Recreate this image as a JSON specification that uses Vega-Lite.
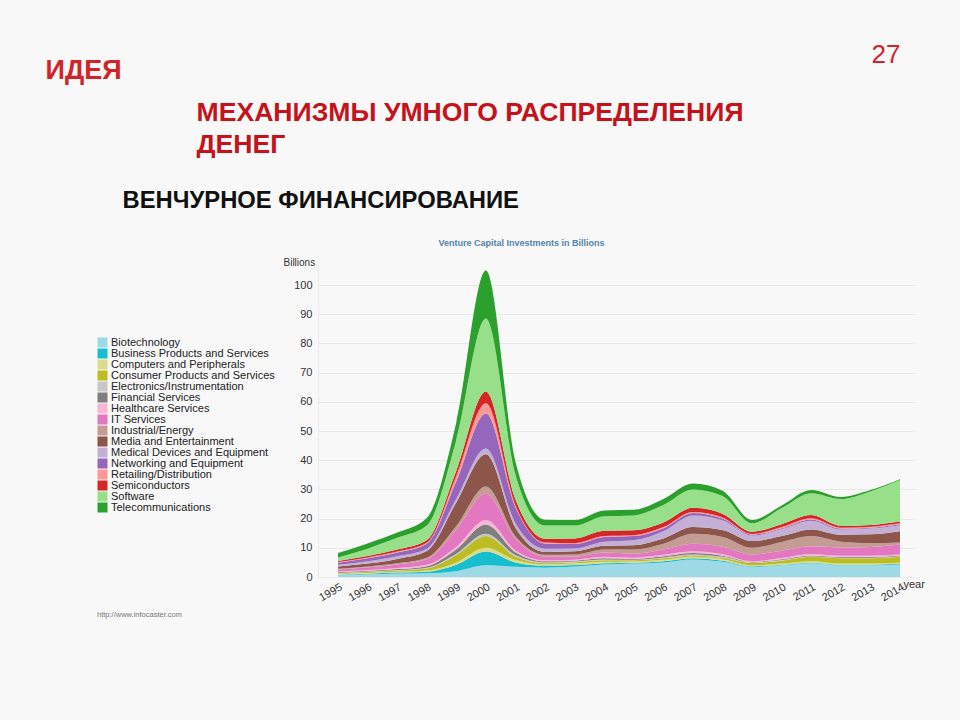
{
"$schema": "https://vega.github.io/schema/vega-lite/v6.json",
"width": 597,
"height": 315,
"autosize": {"type": "none"},
"padding": {"left": 318, "top": 262, "right": 45, "bottom": 143},
"background": "#f8f8f8",
"config": {"font": "Liberation Sans", "view": {"stroke": null}},
"data": {"values": [
{"Year":1995,"Sector":"Biotechnology","Value":0.6},{"Year":1995,"Sector":"Business Products and Services","Value":0.2},{"Year":1995,"Sector":"Computers and Peripherals","Value":0.2},{"Year":1995,"Sector":"Consumer Products and Services","Value":0.2},{"Year":1995,"Sector":"Electronics/Instrumentation","Value":0.2},{"Year":1995,"Sector":"Financial Services","Value":0.2},{"Year":1995,"Sector":"Healthcare Services","Value":0.3},{"Year":1995,"Sector":"IT Services","Value":0.6},{"Year":1995,"Sector":"Industrial/Energy","Value":0.3},{"Year":1995,"Sector":"Media and Entertainment","Value":0.8},{"Year":1995,"Sector":"Medical Devices and Equipment","Value":0.6},{"Year":1995,"Sector":"Networking and Equipment","Value":0.7},{"Year":1995,"Sector":"Retailing/Distribution","Value":0.2},{"Year":1995,"Sector":"Semiconductors","Value":0.4},{"Year":1995,"Sector":"Software","Value":1.2},{"Year":1995,"Sector":"Telecommunications","Value":1.5},
{"Year":1996,"Sector":"Biotechnology","Value":0.9},{"Year":1996,"Sector":"Business Products and Services","Value":0.2},{"Year":1996,"Sector":"Computers and Peripherals","Value":0.3},{"Year":1996,"Sector":"Consumer Products and Services","Value":0.3},{"Year":1996,"Sector":"Electronics/Instrumentation","Value":0.2},{"Year":1996,"Sector":"Financial Services","Value":0.2},{"Year":1996,"Sector":"Healthcare Services","Value":0.3},{"Year":1996,"Sector":"IT Services","Value":0.9},{"Year":1996,"Sector":"Industrial/Energy","Value":0.3},{"Year":1996,"Sector":"Media and Entertainment","Value":1.0},{"Year":1996,"Sector":"Medical Devices and Equipment","Value":0.8},{"Year":1996,"Sector":"Networking and Equipment","Value":1.0},{"Year":1996,"Sector":"Retailing/Distribution","Value":0.3},{"Year":1996,"Sector":"Semiconductors","Value":0.5},{"Year":1996,"Sector":"Software","Value":2.5},{"Year":1996,"Sector":"Telecommunications","Value":1.8},
{"Year":1997,"Sector":"Biotechnology","Value":1.2},{"Year":1997,"Sector":"Business Products and Services","Value":0.3},{"Year":1997,"Sector":"Computers and Peripherals","Value":0.3},{"Year":1997,"Sector":"Consumer Products and Services","Value":0.4},{"Year":1997,"Sector":"Electronics/Instrumentation","Value":0.2},{"Year":1997,"Sector":"Financial Services","Value":0.3},{"Year":1997,"Sector":"Healthcare Services","Value":0.4},{"Year":1997,"Sector":"IT Services","Value":1.2},{"Year":1997,"Sector":"Industrial/Energy","Value":0.4},{"Year":1997,"Sector":"Media and Entertainment","Value":1.5},{"Year":1997,"Sector":"Medical Devices and Equipment","Value":0.9},{"Year":1997,"Sector":"Networking and Equipment","Value":1.3},{"Year":1997,"Sector":"Retailing/Distribution","Value":0.3},{"Year":1997,"Sector":"Semiconductors","Value":0.7},{"Year":1997,"Sector":"Software","Value":4.0},{"Year":1997,"Sector":"Telecommunications","Value":1.8},
{"Year":1998,"Sector":"Biotechnology","Value":1.3},{"Year":1998,"Sector":"Business Products and Services","Value":0.5},{"Year":1998,"Sector":"Computers and Peripherals","Value":0.4},{"Year":1998,"Sector":"Consumer Products and Services","Value":0.7},{"Year":1998,"Sector":"Electronics/Instrumentation","Value":0.3},{"Year":1998,"Sector":"Financial Services","Value":0.5},{"Year":1998,"Sector":"Healthcare Services","Value":0.5},{"Year":1998,"Sector":"IT Services","Value":1.9},{"Year":1998,"Sector":"Industrial/Energy","Value":0.5},{"Year":1998,"Sector":"Media and Entertainment","Value":2.3},{"Year":1998,"Sector":"Medical Devices and Equipment","Value":0.8},{"Year":1998,"Sector":"Networking and Equipment","Value":1.7},{"Year":1998,"Sector":"Retailing/Distribution","Value":0.3},{"Year":1998,"Sector":"Semiconductors","Value":0.9},{"Year":1998,"Sector":"Software","Value":5.0},{"Year":1998,"Sector":"Telecommunications","Value":2.6},
{"Year":1999,"Sector":"Biotechnology","Value":2.0},{"Year":1999,"Sector":"Business Products and Services","Value":2.2},{"Year":1999,"Sector":"Computers and Peripherals","Value":0.8},{"Year":1999,"Sector":"Consumer Products and Services","Value":2.5},{"Year":1999,"Sector":"Electronics/Instrumentation","Value":0.5},{"Year":1999,"Sector":"Financial Services","Value":1.5},{"Year":1999,"Sector":"Healthcare Services","Value":0.8},{"Year":1999,"Sector":"IT Services","Value":6.0},{"Year":1999,"Sector":"Industrial/Energy","Value":1.2},{"Year":1999,"Sector":"Media and Entertainment","Value":8.0},{"Year":1999,"Sector":"Medical Devices and Equipment","Value":1.3},{"Year":1999,"Sector":"Networking and Equipment","Value":6.0},{"Year":1999,"Sector":"Retailing/Distribution","Value":1.8},{"Year":1999,"Sector":"Semiconductors","Value":1.8},{"Year":1999,"Sector":"Software","Value":10.5},{"Year":1999,"Sector":"Telecommunications","Value":6.0},
{"Year":2000,"Sector":"Biotechnology","Value":4.0},{"Year":2000,"Sector":"Business Products and Services","Value":4.7},{"Year":2000,"Sector":"Computers and Peripherals","Value":1.3},{"Year":2000,"Sector":"Consumer Products and Services","Value":4.0},{"Year":2000,"Sector":"Electronics/Instrumentation","Value":0.8},{"Year":2000,"Sector":"Financial Services","Value":3.2},{"Year":2000,"Sector":"Healthcare Services","Value":1.5},{"Year":2000,"Sector":"IT Services","Value":9.0},{"Year":2000,"Sector":"Industrial/Energy","Value":2.5},{"Year":2000,"Sector":"Media and Entertainment","Value":11.0},{"Year":2000,"Sector":"Medical Devices and Equipment","Value":2.0},{"Year":2000,"Sector":"Networking and Equipment","Value":12.0},{"Year":2000,"Sector":"Retailing/Distribution","Value":3.5},{"Year":2000,"Sector":"Semiconductors","Value":4.0},{"Year":2000,"Sector":"Software","Value":25.0},{"Year":2000,"Sector":"Telecommunications","Value":16.5},
{"Year":2001,"Sector":"Biotechnology","Value":3.5},{"Year":2001,"Sector":"Business Products and Services","Value":1.5},{"Year":2001,"Sector":"Computers and Peripherals","Value":0.8},{"Year":2001,"Sector":"Consumer Products and Services","Value":1.2},{"Year":2001,"Sector":"Electronics/Instrumentation","Value":0.5},{"Year":2001,"Sector":"Financial Services","Value":1.0},{"Year":2001,"Sector":"Healthcare Services","Value":0.6},{"Year":2001,"Sector":"IT Services","Value":4.0},{"Year":2001,"Sector":"Industrial/Energy","Value":0.8},{"Year":2001,"Sector":"Media and Entertainment","Value":3.0},{"Year":2001,"Sector":"Medical Devices and Equipment","Value":1.5},{"Year":2001,"Sector":"Networking and Equipment","Value":5.5},{"Year":2001,"Sector":"Retailing/Distribution","Value":0.6},{"Year":2001,"Sector":"Semiconductors","Value":2.0},{"Year":2001,"Sector":"Software","Value":8.5},{"Year":2001,"Sector":"Telecommunications","Value":4.5},
{"Year":2002,"Sector":"Biotechnology","Value":3.2},{"Year":2002,"Sector":"Business Products and Services","Value":0.7},{"Year":2002,"Sector":"Computers and Peripherals","Value":0.4},{"Year":2002,"Sector":"Consumer Products and Services","Value":0.4},{"Year":2002,"Sector":"Electronics/Instrumentation","Value":0.3},{"Year":2002,"Sector":"Financial Services","Value":0.4},{"Year":2002,"Sector":"Healthcare Services","Value":0.3},{"Year":2002,"Sector":"IT Services","Value":1.3},{"Year":2002,"Sector":"Industrial/Energy","Value":0.6},{"Year":2002,"Sector":"Media and Entertainment","Value":1.0},{"Year":2002,"Sector":"Medical Devices and Equipment","Value":1.1},{"Year":2002,"Sector":"Networking and Equipment","Value":1.8},{"Year":2002,"Sector":"Retailing/Distribution","Value":0.3},{"Year":2002,"Sector":"Semiconductors","Value":1.3},{"Year":2002,"Sector":"Software","Value":4.5},{"Year":2002,"Sector":"Telecommunications","Value":2.0},
{"Year":2003,"Sector":"Biotechnology","Value":3.6},{"Year":2003,"Sector":"Business Products and Services","Value":0.5},{"Year":2003,"Sector":"Computers and Peripherals","Value":0.5},{"Year":2003,"Sector":"Consumer Products and Services","Value":0.4},{"Year":2003,"Sector":"Electronics/Instrumentation","Value":0.3},{"Year":2003,"Sector":"Financial Services","Value":0.3},{"Year":2003,"Sector":"Healthcare Services","Value":0.3},{"Year":2003,"Sector":"IT Services","Value":1.1},{"Year":2003,"Sector":"Industrial/Energy","Value":0.7},{"Year":2003,"Sector":"Media and Entertainment","Value":1.1},{"Year":2003,"Sector":"Medical Devices and Equipment","Value":1.0},{"Year":2003,"Sector":"Networking and Equipment","Value":1.5},{"Year":2003,"Sector":"Retailing/Distribution","Value":0.3},{"Year":2003,"Sector":"Semiconductors","Value":1.6},{"Year":2003,"Sector":"Software","Value":4.4},{"Year":2003,"Sector":"Telecommunications","Value":1.9},
{"Year":2004,"Sector":"Biotechnology","Value":4.3},{"Year":2004,"Sector":"Business Products and Services","Value":0.4},{"Year":2004,"Sector":"Computers and Peripherals","Value":0.5},{"Year":2004,"Sector":"Consumer Products and Services","Value":0.5},{"Year":2004,"Sector":"Electronics/Instrumentation","Value":0.3},{"Year":2004,"Sector":"Financial Services","Value":0.4},{"Year":2004,"Sector":"Healthcare Services","Value":0.5},{"Year":2004,"Sector":"IT Services","Value":1.5},{"Year":2004,"Sector":"Industrial/Energy","Value":1.0},{"Year":2004,"Sector":"Media and Entertainment","Value":1.3},{"Year":2004,"Sector":"Medical Devices and Equipment","Value":1.4},{"Year":2004,"Sector":"Networking and Equipment","Value":1.6},{"Year":2004,"Sector":"Retailing/Distribution","Value":0.3},{"Year":2004,"Sector":"Semiconductors","Value":1.8},{"Year":2004,"Sector":"Software","Value":5.0},{"Year":2004,"Sector":"Telecommunications","Value":2.0},
{"Year":2005,"Sector":"Biotechnology","Value":4.6},{"Year":2005,"Sector":"Business Products and Services","Value":0.3},{"Year":2005,"Sector":"Computers and Peripherals","Value":0.4},{"Year":2005,"Sector":"Consumer Products and Services","Value":0.4},{"Year":2005,"Sector":"Electronics/Instrumentation","Value":0.2},{"Year":2005,"Sector":"Financial Services","Value":0.3},{"Year":2005,"Sector":"Healthcare Services","Value":0.4},{"Year":2005,"Sector":"IT Services","Value":1.4},{"Year":2005,"Sector":"Industrial/Energy","Value":1.4},{"Year":2005,"Sector":"Media and Entertainment","Value":1.5},{"Year":2005,"Sector":"Medical Devices and Equipment","Value":1.7},{"Year":2005,"Sector":"Networking and Equipment","Value":1.4},{"Year":2005,"Sector":"Retailing/Distribution","Value":0.3},{"Year":2005,"Sector":"Semiconductors","Value":1.7},{"Year":2005,"Sector":"Software","Value":5.1},{"Year":2005,"Sector":"Telecommunications","Value":1.9},
{"Year":2006,"Sector":"Biotechnology","Value":5.0},{"Year":2006,"Sector":"Business Products and Services","Value":0.4},{"Year":2006,"Sector":"Computers and Peripherals","Value":0.5},{"Year":2006,"Sector":"Consumer Products and Services","Value":0.5},{"Year":2006,"Sector":"Electronics/Instrumentation","Value":0.3},{"Year":2006,"Sector":"Financial Services","Value":0.4},{"Year":2006,"Sector":"Healthcare Services","Value":0.5},{"Year":2006,"Sector":"IT Services","Value":1.8},{"Year":2006,"Sector":"Industrial/Energy","Value":2.0},{"Year":2006,"Sector":"Media and Entertainment","Value":1.8},{"Year":2006,"Sector":"Medical Devices and Equipment","Value":2.5},{"Year":2006,"Sector":"Networking and Equipment","Value":1.0},{"Year":2006,"Sector":"Retailing/Distribution","Value":0.4},{"Year":2006,"Sector":"Semiconductors","Value":1.6},{"Year":2006,"Sector":"Software","Value":6.0},{"Year":2006,"Sector":"Telecommunications","Value":2.0},
{"Year":2007,"Sector":"Biotechnology","Value":6.0},{"Year":2007,"Sector":"Business Products and Services","Value":0.4},{"Year":2007,"Sector":"Computers and Peripherals","Value":0.5},{"Year":2007,"Sector":"Consumer Products and Services","Value":0.5},{"Year":2007,"Sector":"Electronics/Instrumentation","Value":0.3},{"Year":2007,"Sector":"Financial Services","Value":0.5},{"Year":2007,"Sector":"Healthcare Services","Value":0.6},{"Year":2007,"Sector":"IT Services","Value":2.6},{"Year":2007,"Sector":"Industrial/Energy","Value":3.4},{"Year":2007,"Sector":"Media and Entertainment","Value":2.3},{"Year":2007,"Sector":"Medical Devices and Equipment","Value":4.0},{"Year":2007,"Sector":"Networking and Equipment","Value":0.8},{"Year":2007,"Sector":"Retailing/Distribution","Value":0.4},{"Year":2007,"Sector":"Semiconductors","Value":1.4},{"Year":2007,"Sector":"Software","Value":6.3},{"Year":2007,"Sector":"Telecommunications","Value":2.0},
{"Year":2008,"Sector":"Biotechnology","Value":5.2},{"Year":2008,"Sector":"Business Products and Services","Value":0.4},{"Year":2008,"Sector":"Computers and Peripherals","Value":0.5},{"Year":2008,"Sector":"Consumer Products and Services","Value":0.5},{"Year":2008,"Sector":"Electronics/Instrumentation","Value":0.3},{"Year":2008,"Sector":"Financial Services","Value":0.4},{"Year":2008,"Sector":"Healthcare Services","Value":0.5},{"Year":2008,"Sector":"IT Services","Value":2.6},{"Year":2008,"Sector":"Industrial/Energy","Value":3.3},{"Year":2008,"Sector":"Media and Entertainment","Value":2.4},{"Year":2008,"Sector":"Medical Devices and Equipment","Value":3.3},{"Year":2008,"Sector":"Networking and Equipment","Value":0.6},{"Year":2008,"Sector":"Retailing/Distribution","Value":0.4},{"Year":2008,"Sector":"Semiconductors","Value":1.3},{"Year":2008,"Sector":"Software","Value":6.0},{"Year":2008,"Sector":"Telecommunications","Value":1.8},
{"Year":2009,"Sector":"Biotechnology","Value":3.5},{"Year":2009,"Sector":"Business Products and Services","Value":0.2},{"Year":2009,"Sector":"Computers and Peripherals","Value":0.3},{"Year":2009,"Sector":"Consumer Products and Services","Value":0.8},{"Year":2009,"Sector":"Electronics/Instrumentation","Value":0.2},{"Year":2009,"Sector":"Financial Services","Value":0.2},{"Year":2009,"Sector":"Healthcare Services","Value":0.2},{"Year":2009,"Sector":"IT Services","Value":2.3},{"Year":2009,"Sector":"Industrial/Energy","Value":2.3},{"Year":2009,"Sector":"Media and Entertainment","Value":2.3},{"Year":2009,"Sector":"Medical Devices and Equipment","Value":1.9},{"Year":2009,"Sector":"Networking and Equipment","Value":0.3},{"Year":2009,"Sector":"Retailing/Distribution","Value":0.2},{"Year":2009,"Sector":"Semiconductors","Value":0.8},{"Year":2009,"Sector":"Software","Value":2.9},{"Year":2009,"Sector":"Telecommunications","Value":1.1},
{"Year":2010,"Sector":"Biotechnology","Value":4.0},{"Year":2010,"Sector":"Business Products and Services","Value":0.2},{"Year":2010,"Sector":"Computers and Peripherals","Value":0.4},{"Year":2010,"Sector":"Consumer Products and Services","Value":1.0},{"Year":2010,"Sector":"Electronics/Instrumentation","Value":0.2},{"Year":2010,"Sector":"Financial Services","Value":0.3},{"Year":2010,"Sector":"Healthcare Services","Value":0.4},{"Year":2010,"Sector":"IT Services","Value":2.5},{"Year":2010,"Sector":"Industrial/Energy","Value":3.0},{"Year":2010,"Sector":"Media and Entertainment","Value":2.0},{"Year":2010,"Sector":"Medical Devices and Equipment","Value":2.4},{"Year":2010,"Sector":"Networking and Equipment","Value":0.3},{"Year":2010,"Sector":"Retailing/Distribution","Value":0.4},{"Year":2010,"Sector":"Semiconductors","Value":1.0},{"Year":2010,"Sector":"Software","Value":5.5},{"Year":2010,"Sector":"Telecommunications","Value":0.9},
{"Year":2011,"Sector":"Biotechnology","Value":4.7},{"Year":2011,"Sector":"Business Products and Services","Value":0.2},{"Year":2011,"Sector":"Computers and Peripherals","Value":0.5},{"Year":2011,"Sector":"Consumer Products and Services","Value":1.5},{"Year":2011,"Sector":"Electronics/Instrumentation","Value":0.2},{"Year":2011,"Sector":"Financial Services","Value":0.3},{"Year":2011,"Sector":"Healthcare Services","Value":0.5},{"Year":2011,"Sector":"IT Services","Value":2.6},{"Year":2011,"Sector":"Industrial/Energy","Value":3.5},{"Year":2011,"Sector":"Media and Entertainment","Value":2.3},{"Year":2011,"Sector":"Medical Devices and Equipment","Value":3.0},{"Year":2011,"Sector":"Networking and Equipment","Value":0.4},{"Year":2011,"Sector":"Retailing/Distribution","Value":0.4},{"Year":2011,"Sector":"Semiconductors","Value":1.1},{"Year":2011,"Sector":"Software","Value":7.5},{"Year":2011,"Sector":"Telecommunications","Value":1.1},
{"Year":2012,"Sector":"Biotechnology","Value":4.0},{"Year":2012,"Sector":"Business Products and Services","Value":0.2},{"Year":2012,"Sector":"Computers and Peripherals","Value":0.4},{"Year":2012,"Sector":"Consumer Products and Services","Value":1.8},{"Year":2012,"Sector":"Electronics/Instrumentation","Value":0.2},{"Year":2012,"Sector":"Financial Services","Value":0.3},{"Year":2012,"Sector":"Healthcare Services","Value":0.4},{"Year":2012,"Sector":"IT Services","Value":2.8},{"Year":2012,"Sector":"Industrial/Energy","Value":2.0},{"Year":2012,"Sector":"Media and Entertainment","Value":2.4},{"Year":2012,"Sector":"Medical Devices and Equipment","Value":1.8},{"Year":2012,"Sector":"Networking and Equipment","Value":0.3},{"Year":2012,"Sector":"Retailing/Distribution","Value":0.3},{"Year":2012,"Sector":"Semiconductors","Value":0.6},{"Year":2012,"Sector":"Software","Value":9.2},{"Year":2012,"Sector":"Telecommunications","Value":0.7},
{"Year":2013,"Sector":"Biotechnology","Value":4.0},{"Year":2013,"Sector":"Business Products and Services","Value":0.2},{"Year":2013,"Sector":"Computers and Peripherals","Value":0.4},{"Year":2013,"Sector":"Consumer Products and Services","Value":1.8},{"Year":2013,"Sector":"Electronics/Instrumentation","Value":0.2},{"Year":2013,"Sector":"Financial Services","Value":0.3},{"Year":2013,"Sector":"Healthcare Services","Value":0.4},{"Year":2013,"Sector":"IT Services","Value":3.0},{"Year":2013,"Sector":"Industrial/Energy","Value":1.3},{"Year":2013,"Sector":"Media and Entertainment","Value":3.0},{"Year":2013,"Sector":"Medical Devices and Equipment","Value":2.0},{"Year":2013,"Sector":"Networking and Equipment","Value":0.3},{"Year":2013,"Sector":"Retailing/Distribution","Value":0.3},{"Year":2013,"Sector":"Semiconductors","Value":0.6},{"Year":2013,"Sector":"Software","Value":11.5},{"Year":2013,"Sector":"Telecommunications","Value":0.5},
{"Year":2014,"Sector":"Biotechnology","Value":4.3},{"Year":2014,"Sector":"Business Products and Services","Value":0.2},{"Year":2014,"Sector":"Computers and Peripherals","Value":0.4},{"Year":2014,"Sector":"Consumer Products and Services","Value":2.0},{"Year":2014,"Sector":"Electronics/Instrumentation","Value":0.2},{"Year":2014,"Sector":"Financial Services","Value":0.3},{"Year":2014,"Sector":"Healthcare Services","Value":0.3},{"Year":2014,"Sector":"IT Services","Value":3.4},{"Year":2014,"Sector":"Industrial/Energy","Value":0.7},{"Year":2014,"Sector":"Media and Entertainment","Value":3.9},{"Year":2014,"Sector":"Medical Devices and Equipment","Value":2.0},{"Year":2014,"Sector":"Networking and Equipment","Value":0.4},{"Year":2014,"Sector":"Retailing/Distribution","Value":0.3},{"Year":2014,"Sector":"Semiconductors","Value":0.6},{"Year":2014,"Sector":"Software","Value":14.2},{"Year":2014,"Sector":"Telecommunications","Value":0.3}
]},
"resolve": {"axis": {"x": "independent", "y": "independent"}},
"layer": [
{
"mark": {"type": "area", "interpolate": "monotone"},
"encoding": {
"x": {"field": "Year", "type": "quantitative",
"scale": {"domain": [1994.324, 2014.507], "nice": false, "zero": false},
"axis": {"orient": "bottom", "values": [1995,1996,1997,1998,1999,2000,2001,2002,2003,2004,2005,2006,2007,2008,2009,2010,2011,2012,2013,2014], "format": "d", "labelAngle": -30, "labelAlign": "right", "labelBaseline": "top", "labelPadding": 4, "labelOverlap": false, "labelFlush": false, "labelBound": false, "ticks": false, "domain": false, "grid": false, "labelFontSize": 11, "labelColor": "#333333", "title": "year", "titleX": 585, "titleY": 10, "titleAlign": "left", "titleBaseline": "alphabetic", "titleAngle": 0, "titleFontSize": 11, "titleFontWeight": "normal", "titleColor": "#333333"}},
"y": {"field": "Value", "type": "quantitative", "stack": "zero",
"scale": {"domain": [0, 107.877], "nice": false},
"axis": {"orient": "left", "values": [0,10,20,30,40,50,60,70,80,90,100], "grid": true, "gridColor": "#e8e8e8", "ticks": false, "domain": true, "domainColor": "#ececec", "labelPadding": 6, "labelFontSize": 11, "labelColor": "#333333", "title": "Billions", "titleAngle": 0, "titleX": -35, "titleY": 3, "titleAlign": "left", "titleBaseline": "alphabetic", "titleFontSize": 10, "titleFontWeight": "normal", "titleColor": "#333333"}},
"color": {"field": "Sector", "type": "nominal",
"scale": {"domain": ["Biotechnology","Business Products and Services","Computers and Peripherals","Consumer Products and Services","Electronics/Instrumentation","Financial Services","Healthcare Services","IT Services","Industrial/Energy","Media and Entertainment","Medical Devices and Equipment","Networking and Equipment","Retailing/Distribution","Semiconductors","Software","Telecommunications"],
"range": ["#9edae5","#17becf","#dbdb8d","#bcbd22","#c7c7c7","#7f7f7f","#f7b6d2","#e377c2","#c49c94","#8c564b","#c5b0d5","#9467bd","#ff9896","#d62728","#98df8a","#2ca02c"]},
"legend": {"orient": "none", "legendX": -221, "legendY": 75, "padding": 0, "title": "http://www.infocaster.com", "titleOrient": "bottom", "titleAnchor": "start", "titlePadding": 98, "titleFontSize": 7.5, "titleFontWeight": "normal", "titleColor": "#777777", "symbolType": "square", "symbolSize": 100, "symbolStrokeWidth": 0, "symbolOpacity": 1, "labelFontSize": 11, "labelColor": "#222222", "labelOffset": 3, "rowPadding": -1, "labelLimit": 300}},
"order": {"field": "Sector", "sort": "ascending"}
}
},
{
"mark": {"type": "point", "opacity": 0},
"encoding": {
"x": {"field": "Year", "type": "quantitative",
"scale": {"domain": [1994.324, 2014.507], "nice": false, "zero": false},
"axis": {"orient": "top", "labels": false, "ticks": false, "domain": false, "grid": false, "title": ["МЕХАНИЗМЫ УМНОГО РАСПРЕДЕЛЕНИЯ", "ДЕНЕГ"], "titleX": -122, "titleY": -142, "titleAlign": "left", "titleBaseline": "alphabetic", "titleAngle": 0, "titleFontSize": 26.6, "titleFontWeight": "bold", "titleColor": "#c5121b", "titleLineHeight": 32.7}},
"y": {"field": "Value", "type": "quantitative",
"scale": {"domain": [0, 107.877], "nice": false},
"axis": {"orient": "right", "labels": false, "ticks": false, "domain": false, "grid": false, "title": "ВЕНЧУРНОЕ ФИНАНСИРОВАНИЕ", "titleX": -793, "titleY": -55, "titleAlign": "left", "titleBaseline": "alphabetic", "titleAngle": 0, "titleFontSize": 23.8, "titleFontWeight": "bold", "titleColor": "#111111"}}
}
},
{
"mark": {"type": "point", "opacity": 0},
"encoding": {
"x": {"field": "Year", "type": "quantitative",
"scale": {"domain": [1994.324, 2014.507], "nice": false, "zero": false},
"axis": {"orient": "top", "labels": false, "ticks": false, "domain": false, "grid": false, "title": "Venture Capital Investments in Billions", "titleX": 203, "titleY": -17, "titleAlign": "center", "titleBaseline": "alphabetic", "titleAngle": 0, "titleFontSize": 9, "titleFontWeight": "bold", "titleColor": "#5583ab"}},
"y": {"field": "Value", "type": "quantitative",
"scale": {"domain": [0, 107.877], "nice": false},
"axis": {"orient": "right", "labels": false, "ticks": false, "domain": false, "grid": false, "title": "27", "titleX": -44, "titleY": -200, "titleAlign": "left", "titleBaseline": "alphabetic", "titleAngle": 0, "titleFontSize": 26, "titleFontWeight": "normal", "titleColor": "#d3242c"}}
}
},
{
"mark": {"type": "point", "opacity": 0},
"encoding": {
"x": {"field": "Year", "type": "quantitative",
"scale": {"domain": [1994.324, 2014.507], "nice": false, "zero": false},
"axis": {"orient": "top", "labels": false, "ticks": false, "domain": false, "grid": false, "title": "ИДЕЯ", "titleX": -273, "titleY": -184, "titleAlign": "left", "titleBaseline": "alphabetic", "titleAngle": 0, "titleFontSize": 27, "titleFontWeight": "bold", "titleColor": "#d2232a"}},
"y": {"field": "Value", "type": "quantitative",
"scale": {"domain": [0, 107.877], "nice": false},
"axis": null}
}
}
]
}
